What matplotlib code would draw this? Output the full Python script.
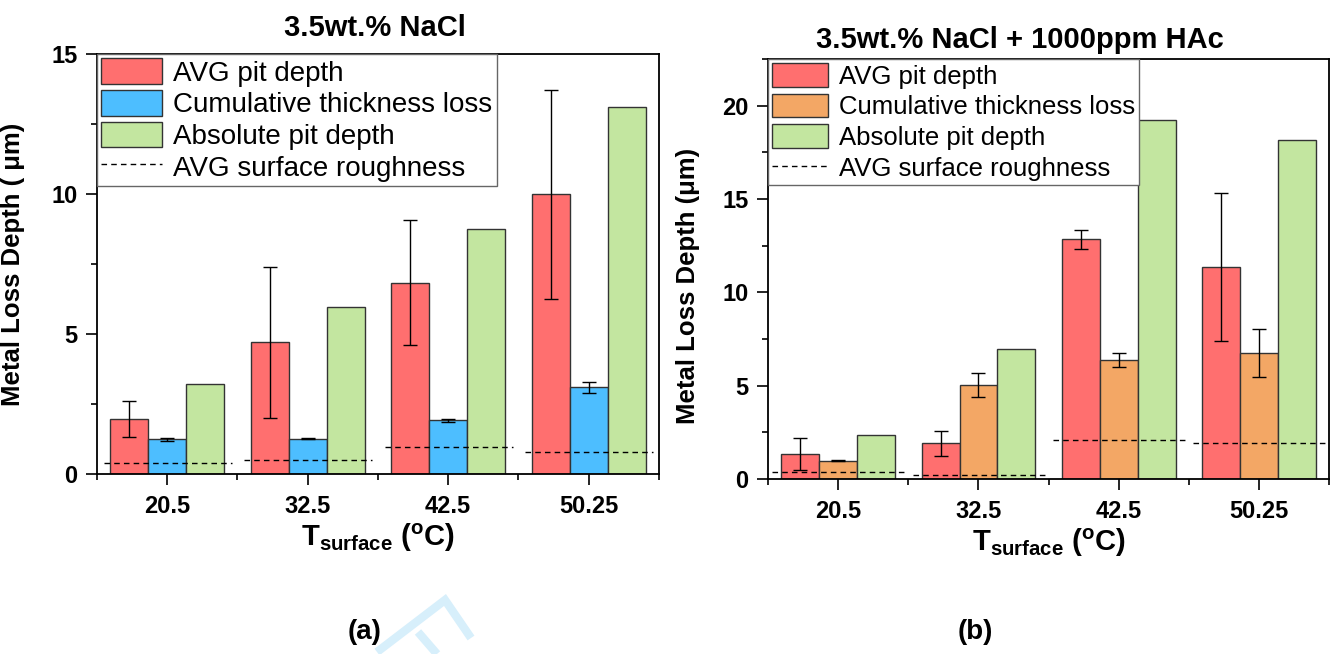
import numpy as np
import matplotlib
matplotlib.use("Agg")
import matplotlib.pyplot as plt
from matplotlib.lines import Line2D
from matplotlib.ticker import MultipleLocator, FixedLocator

plt.rcParams['font.family'] = ['Liberation Sans', 'DejaVu Sans']
plt.rcParams['font.weight'] = 'bold'
plt.rcParams['mathtext.fontset'] = 'custom'
plt.rcParams['mathtext.rm'] = 'Liberation Sans:bold'
plt.rcParams['mathtext.it'] = 'Liberation Sans:bold'
plt.rcParams['mathtext.bf'] = 'Liberation Sans:bold'

temps = ["20.5", "32.5", "42.5", "50.25"]

# (a) 3.5wt.% NaCl
a_avg_pit = [1.96, 4.70, 6.83, 9.99]
a_avg_pit_err = [0.65, 2.70, 2.23, 3.74]
a_cum_loss = [1.24, 1.26, 1.92, 3.10]
a_cum_loss_err = [0.05, 0.02, 0.06, 0.20]
a_abs_pit = [3.20, 5.98, 8.75, 13.10]
a_roughness = [0.38, 0.50, 0.95, 0.77]

# (b) 3.5wt.% NaCl + 1000ppm HAc
b_avg_pit = [1.34, 1.91, 12.83, 11.36]
b_avg_pit_err = [0.87, 0.66, 0.53, 3.98]
b_cum_loss = [0.98, 5.05, 6.39, 6.76]
b_cum_loss_err = [0.02, 0.65, 0.38, 1.30]
b_abs_pit = [2.34, 6.98, 19.23, 18.16]
b_roughness = [0.39, 0.20, 2.10, 1.93]

RED = '#ff6f6f'
BLUE = '#4dbeff'
ORANGE = '#f3a765'
GREEN = '#c3e6a0'
EDGE = '#333333'


def draw_panel(ax, avg, avg_err, cum, cum_err, absd, rough, cum_color,
               ymax, ymajor, title, title_x, title_y, ylabel, ylabel_pos, rough_span,
               leg_size, leg_spacing):
    x = np.arange(len(temps))
    w = 0.27
    b1 = ax.bar(x - w, avg, w, color=RED, edgecolor=EDGE, linewidth=1, zorder=2)
    b2 = ax.bar(x, cum, w, color=cum_color, edgecolor=EDGE, linewidth=1, zorder=2)
    b3 = ax.bar(x + w, absd, w, color=GREEN, edgecolor=EDGE, linewidth=1, zorder=2)
    ax.errorbar(x - w, avg, yerr=avg_err, fmt='none', ecolor='black', elinewidth=1,
                capsize=5, capthick=1, zorder=3)
    ax.errorbar(x, cum, yerr=cum_err, fmt='none', ecolor='black', elinewidth=1,
                capsize=5, capthick=1, zorder=3)
    ax.hlines(rough, x + rough_span[0], x + rough_span[1], colors='black',
              linestyles=(0, (4, 3)), linewidth=1, zorder=4)
    rough_handle = Line2D([], [], color='black', linestyle=(0, (4, 3)), linewidth=1)

    ax.set_xlim(-0.5, 3.5)
    ax.set_ylim(0, ymax)
    ax.set_xticks(x)
    ax.set_xticklabels(temps)
    ax.xaxis.set_minor_locator(FixedLocator(np.arange(-0.5, 4.0, 1.0)))
    ax.yaxis.set_major_locator(MultipleLocator(ymajor))
    ax.yaxis.set_minor_locator(MultipleLocator(ymajor / 2))
    ax.tick_params(which='major', direction='out', length=8, width=1.2, labelsize=17, pad=6)
    ax.tick_params(which='minor', direction='out', length=4, width=1.2)
    ax.tick_params(axis='x', which='major', pad=7)
    for s in ax.spines.values():
        s.set_linewidth(1.3)

    ax.set_xlabel(r'T$_{surface}$ ($^{o}$C)', fontsize=21, fontweight='bold', labelpad=3)
    ax.set_ylabel(ylabel, fontsize=18.5, fontweight='bold')
    ax.yaxis.set_label_coords(*ylabel_pos)
    ax.text(title_x, title_y, title, transform=ax.transAxes, ha='center', va='center',
            fontsize=21, fontweight='bold')

    leg = ax.legend([b1, b2, b3, rough_handle],
                    ['AVG pit depth', 'Cumulative thickness loss', 'Absolute pit depth',
                     'AVG surface roughness'],
                    loc='upper left', bbox_to_anchor=(0, 1), borderaxespad=0,
                    prop={'weight': 'normal', 'size': leg_size}, frameon=True, fancybox=False,
                    framealpha=1, edgecolor='#666666', handlelength=2.2, handleheight=1.05,
                    handletextpad=0.4, labelspacing=leg_spacing, borderpad=0.15)
    leg.get_frame().set_linewidth(1.0)


fig = plt.figure(figsize=(13.39, 6.54), dpi=100)
ax1 = fig.add_axes([0.0724, 0.2752, 0.4197, 0.6422])
ax2 = fig.add_axes([0.5736, 0.2676, 0.4190, 0.6422])

draw_panel(ax1, a_avg_pit, a_avg_pit_err, a_cum_loss, a_cum_loss_err, a_abs_pit, a_roughness,
           BLUE, 15, 5, '3.5wt.% NaCl', 0.495, 1.062,
           'Metal Loss Depth ( μm)', (-0.128, 0.5), (-0.45, 0.46), 20, 0.12)
draw_panel(ax2, b_avg_pit, b_avg_pit_err, b_cum_loss, b_cum_loss_err, b_abs_pit, b_roughness,
           ORANGE, 22.5, 5, '3.5wt.% NaCl + 1000ppm HAc', 0.449, 1.045,
           'Metal Loss Depth (μm)', (-0.121, 0.46), (-0.47, 0.50), 18.5, 0.2)

fig.text(365 / 1339, 1 - 632 / 654, '(a)', ha='center', va='center', fontsize=20, fontweight='bold')
fig.text(975 / 1339, 1 - 632 / 654, '(b)', ha='center', va='center', fontsize=20, fontweight='bold')

# faint watermark fragment at the bottom edge
wm_strokes = [[(377, 652), (445, 600), (471, 638)], [(418, 632), (437, 654)]]
for stroke in wm_strokes:
    px = [p[0] / 1339 for p in stroke]
    py = [1 - p[1] / 654 for p in stroke]
    fig.add_artist(Line2D(px, py, color='#d7effb', linewidth=6, solid_joinstyle='miter',
                          solid_capstyle='butt', zorder=0))

fig.savefig('out.png', dpi=100)
